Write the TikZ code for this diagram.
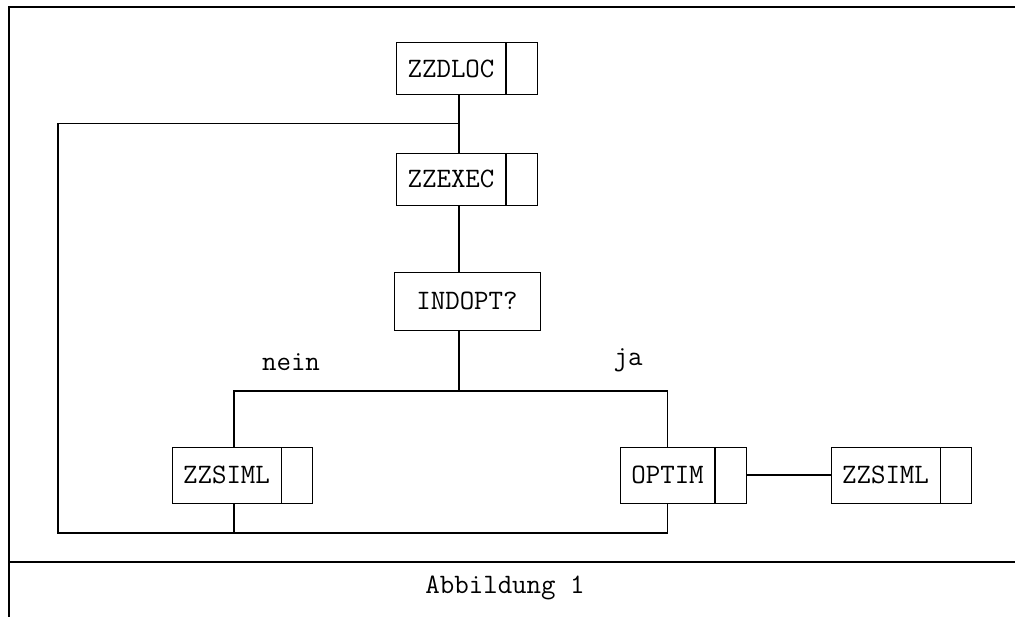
\documentclass[tikz,border=0pt]{standalone}
\usepackage{tikz}
\usetikzlibrary{positioning,calc}

\begin{document}
\begin{tikzpicture}[
  module/.style={draw, inner xsep=0.22cm, minimum height=1.04cm, font=\fontsize{16}{18}\selectfont\ttfamily},
  flag/.style={draw, minimum width=0.62cm, minimum height=1.04cm},
  line/.style={line width=0.6pt},
  note/.style={font=\fontsize{16}{18}\selectfont\ttfamily}
]
\useasboundingbox (0,0) rectangle (20.3,-12.34);

% frame
\draw[line] (20.3,-0.14) -- (0.18,-0.14) -- (0.18,-12.34);
\draw[line] (0.18,-11.24) -- (20.3,-11.24);

\node[module] (dloc) at (9.02,-1.37) {ZZDLOC};
\node[flag, right=0pt of dloc] (dlocf) {};
\node[module] (exec) at (9.02,-3.58) {ZZEXEC};
\node[flag, right=0pt of exec] (execf) {};
\node[module, minimum width=2.92cm, minimum height=1.16cm] (indopt) at (9.34,-6.02) {INDOPT?};
\node[module, minimum height=1.12cm] (simlA) at (4.53,-9.5) {ZZSIML};
\node[flag, minimum height=1.12cm, right=0pt of simlA] (simlAf) {};
\node[module, minimum height=1.12cm] (optim) at (13.35,-9.5) {OPTIM};
\node[flag, minimum height=1.12cm, right=0pt of optim] (optimf) {};
\node[module, minimum height=1.12cm] (simlB) at (17.71,-9.5) {ZZSIML};
\node[flag, minimum height=1.12cm, right=0pt of simlB] (simlBf) {};

\coordinate (trunk) at (9.18,0);
\coordinate (junc) at (9.18,-2.47);
\coordinate (fork) at (9.18,-7.82);
\coordinate (ret) at (1.16,-10.66);

\draw[line] (dloc.south -| trunk) -- (exec.north -| trunk);
\draw[line] (exec.south -| trunk) -- (indopt.north -| trunk);
\draw[line] (indopt.south -| trunk) -- (fork);
\draw[line] ([xshift=0.15cm]simlA.north) |- (fork) -| (optim.north);
\draw[line] (optimf.east) -- (simlB.west);
\draw[line] (optim.south) |- (ret) |- (junc);
\draw[line] ([xshift=0.15cm]simlA.south) -- ([xshift=0.15cm]simlA.south |- ret);

\node[note] (nein) at (5.82,-7.24) {nein};
\node[note] (ja) at (12.56,-7.2) {ja};
\node[note] (caption) at (10.1,-11.76) {Abbildung 1};
\end{tikzpicture}
\end{document}
